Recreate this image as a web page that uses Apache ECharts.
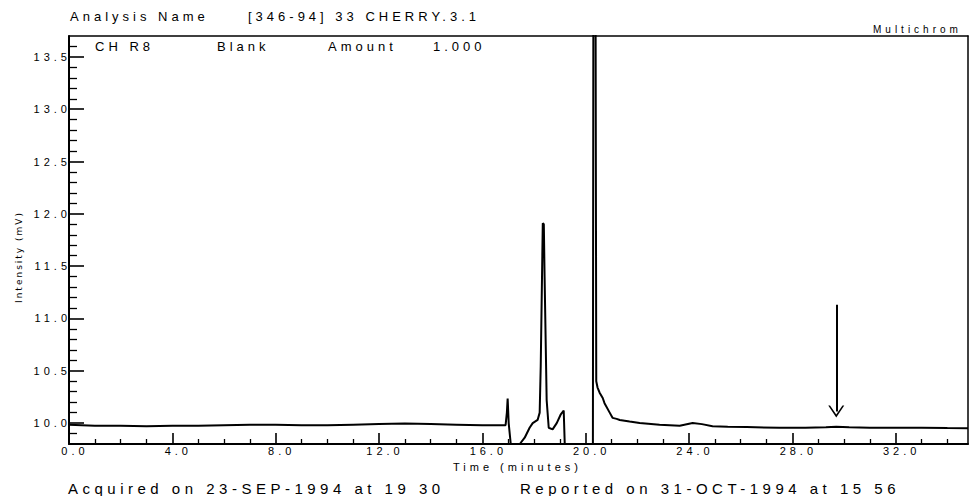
<!DOCTYPE html>
<html>
<head>
<meta charset="utf-8">
<script src="https://cdn.jsdelivr.net/npm/echarts@6/dist/echarts.min.js"></script>
<style>
html, body { margin: 0; padding: 0; background: #fff; }
#chart { width: 971px; height: 496px; }
/* plotter font is spaced out */
#chart text { letter-spacing: 4px; }
#chart text[style*="15px"] { letter-spacing: 4.5px; }
#chart text[style*="DejaVu"] { letter-spacing: 2px; }
</style>
</head>
<body>
<div id="chart"></div>
<script>
var chart = echarts.init(document.getElementById('chart'), null, { renderer: 'svg' });

// trace (minutes, mV)
var times = [
    0, 1, 2, 3, 4, 5, 6, 7, 8, 9, 10, 11, 12, 13, 14, 15, 16, 16.9,
    16.95, 16.98, 17.02, 17.1, 17.45, 17.64, 17.83, 17.95, 18.14, 18.22, 18.26,
    18.34, 18.38, 18.41, 18.49, 18.57, 18.72, 18.88, 19.03, 19.15, 19.19,
    20.28, 20.30, 20.38, 20.41, 20.46, 20.54, 20.66, 20.73, 20.93, 21.04, 21.2,
    21.32, 21.7, 22.09, 22.86, 23.64, 24.14, 24.5, 24.91, 25.5, 26.23, 27.5,
    28.5, 29.3, 29.7, 30.2, 31, 32, 33, 34, 34.8
];
var intensity = [
    9.985, 9.975, 9.975, 9.97, 9.975, 9.975, 9.98, 9.985, 9.985, 9.98, 9.98, 9.985, 9.99, 9.995, 9.99, 9.985, 9.98, 9.98,
    10.1, 10.235, 10.0, 9.8, 9.8, 9.86, 9.955, 10.0, 10.03, 10.1, 10.54,
    11.91, 11.9, 11.4, 10.22, 9.955, 9.94, 10.0, 10.08, 10.12, 9.8,
    9.8, 14.5, 14.5, 10.40, 10.34, 10.29, 10.24, 10.19, 10.1, 10.05, 10.04,
    10.03, 10.015, 10.0, 9.985, 9.975, 10.0, 9.99, 9.97, 9.965, 9.962, 9.955,
    9.955, 9.96, 9.965, 9.96, 9.955, 9.955, 9.955, 9.952, 9.95
];

var xMajor = [0, 4, 8, 12, 16, 20, 24, 28, 32];
var xMinor = [1, 2, 3, 5, 6, 7, 9, 10, 11, 13, 14, 15, 17, 18, 19, 21, 22, 23, 25, 26, 27, 29, 30, 31, 33, 34];
var yMajor = [10, 10.5, 11, 11.5, 12, 12.5, 13, 13.5];
var yMinor = [9.9, 10.1, 10.2, 10.3, 10.4, 10.6, 10.7, 10.8, 10.9, 11.1, 11.2, 11.3, 11.4,
    11.6, 11.7, 11.8, 11.9, 12.1, 12.2, 12.3, 12.4, 12.6, 12.7, 12.8, 12.9,
    13.1, 13.2, 13.3, 13.4, 13.6];

// the hand drawn arrow
var arrowAt = 29.7, arrowTop = 11.13, arrowTip = 10.11;

var X_MIN = 0, X_MAX = 34.8, Y_MIN = 9.8, Y_MAX = 13.7;
var font = 'Liberation Sans';
var trace = times.map(function (t, i) { return [t, intensity[i]]; });

// minor tick lengths in data units (grid is 899 x 408 px)
var yMinorLen = 8 * (X_MAX - X_MIN) / 899;
var xMinorLen = 5 * (Y_MAX - Y_MIN) / 408;

var markData = [[
    { coord: [arrowAt, arrowTop], symbol: 'none' },
    { coord: [arrowAt, arrowTip], symbol: 'path://M0,10 L9,0 L18,10 L16,10 L9,2.5 L2,10 Z', symbolSize: [16, 12],
      lineStyle: { width: 2 } }
]];
yMinor.forEach(function (v) {
    markData.push([{ coord: [X_MIN, v], symbol: 'none' }, { coord: [X_MIN + yMinorLen, v], symbol: 'none' }]);
});
xMinor.forEach(function (v) {
    markData.push([{ coord: [v, Y_MIN], symbol: 'none' }, { coord: [v, Y_MIN + xMinorLen], symbol: 'none' }]);
});

function txt(s, x, y, size) {
    return {
        type: 'text', x: x, y: y, silent: true,
        style: { text: s, fontSize: size, fontFamily: font, fill: '#000', align: 'left', verticalAlign: 'middle' }
    };
}

var frame = { show: true, onZero: false, lineStyle: { color: '#000', width: 1.5 } };

var option = {
    animation: false,
    backgroundColor: '#fff',
    grid: { left: 69, right: 3, top: 36, bottom: 52, show: false, containLabel: false },
    xAxis: [{
        type: 'value', min: X_MIN, max: X_MAX, position: 'bottom',
        axisLine: { show: true, onZero: false, lineStyle: { color: '#000', width: 2 } },
        axisTick: { show: true, inside: true, length: 11, customValues: xMajor, lineStyle: { color: '#000', width: 1.6 } },
        axisLabel: {
            customValues: xMajor, color: '#000', fontSize: 11, fontFamily: font, margin: 1,
            padding: [0, 0, 0, 12],
            formatter: function (v) { return v.toFixed(1); }
        },
        splitLine: { show: false }
    }, {
        type: 'value', min: X_MIN, max: X_MAX, position: 'top',
        axisLine: frame, axisTick: { show: false }, axisLabel: { show: false }, splitLine: { show: false }
    }],
    yAxis: [{
        type: 'value', min: Y_MIN, max: Y_MAX, position: 'left',
        axisLine: { show: true, onZero: false, lineStyle: { color: '#000', width: 2 } },
        axisTick: { show: true, inside: true, length: 15, customValues: yMajor, lineStyle: { color: '#000', width: 1.6 } },
        axisLabel: {
            customValues: yMajor, color: '#000', fontSize: 11, fontFamily: font, margin: -2,
            formatter: function (v) { return v.toFixed(1); }
        },
        splitLine: { show: false }
    }, {
        type: 'value', min: Y_MIN, max: Y_MAX, position: 'right',
        axisLine: frame, axisTick: { show: false }, axisLabel: { show: false }, splitLine: { show: false }
    }],
    series: [{
        type: 'line',
        data: trace,
        symbol: 'none',
        clip: true,
        lineStyle: { color: '#000', width: 2 },
        markLine: {
            silent: true,
            animation: false,
            symbol: 'none',
            label: { show: false },
            emphasis: { disabled: true },
            lineStyle: { color: '#000', width: 1.3, type: 'solid' },
            data: markData
        }
    }],
    graphic: [
        txt('Analysis Name', 70, 16, 13),
        txt('[346-94] 33 CHERRY.3.1', 248, 16, 13),
        txt('Multichrom', 873, 29, 10),
        txt('CH R8', 95, 46, 13),
        txt('Blank', 217, 46, 13),
        txt('Amount', 328, 46, 13),
        txt('1.000', 433, 46, 13),
        {
            type: 'text', x: 19, y: 257, rotation: Math.PI / 2, silent: true,
            style: { text: 'Intensity (mV)', fontSize: 9, fontFamily: 'DejaVu Sans', fill: '#000', align: 'center', verticalAlign: 'middle' }
        },
        txt('Time (minutes)', 453, 467, 11),
        txt('Acquired on 23-SEP-1994 at 19 30', 68, 488, 15),
        txt('Reported on 31-OCT-1994 at 15 56', 520, 488, 15)
    ]
};

chart.setOption(option);
</script>
</body>
</html>
